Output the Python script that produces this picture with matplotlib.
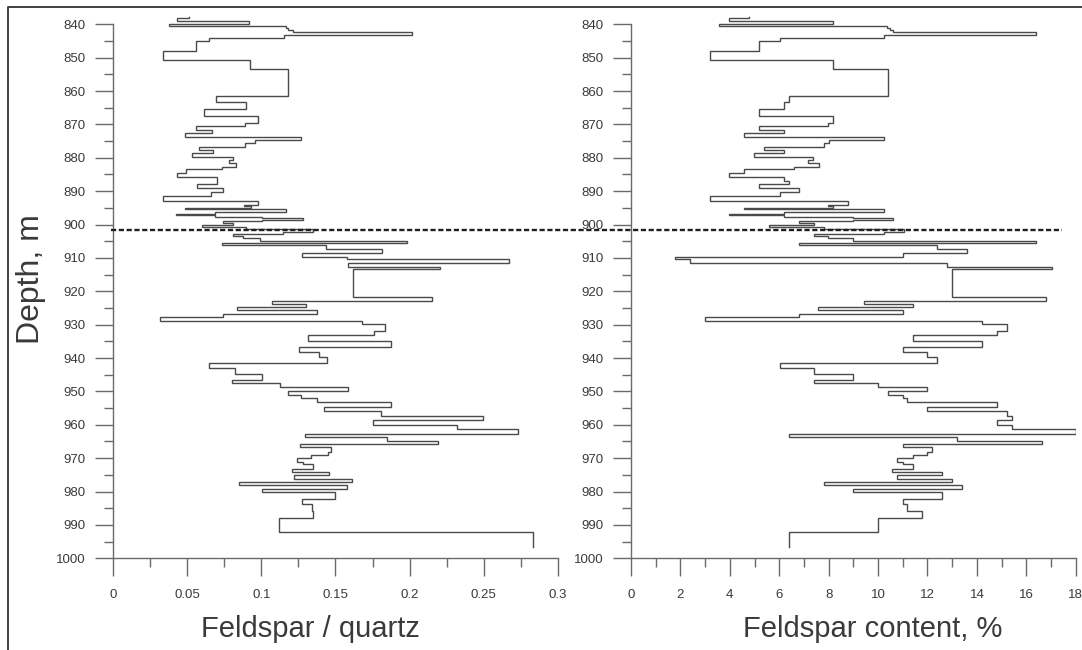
import matplotlib
matplotlib.use("Agg")
import matplotlib.pyplot as plt
import matplotlib.transforms as mtransforms
from matplotlib.lines import Line2D
from matplotlib.ticker import FixedLocator, MultipleLocator
import numpy as np

plt.rcParams['font.family'] = ['Liberation Sans', 'DejaVu Sans']

# sample interval boundaries (m), shared by both logs
depth_bounds = [
    837.9, 838.0, 838.9, 839.9, 840.6, 841.2, 841.8, 842.4, 843.3, 844.2,
    844.9, 847.9, 850.6, 853.3, 861.4, 863.3, 865.5, 867.5, 869.5, 870.5,
    871.7, 872.7, 873.7, 874.7, 875.7, 876.7, 877.7, 878.7, 879.7, 880.7,
    881.7, 882.7, 883.5, 884.5, 885.7, 886.9, 887.9, 889.2, 890.4, 891.5,
    892.9, 894.0, 894.5, 894.9, 895.4, 896.1, 896.7, 897.2, 897.6, 898.1,
    898.6, 898.8, 899.4, 900.1, 900.6, 901.2, 902.3, 902.9, 903.4, 904.1,
    904.8, 905.4, 906.1, 907.3, 908.4, 909.6, 910.4, 911.6, 912.6, 913.4,
    921.6, 922.8, 923.8, 924.8, 925.6, 926.8, 927.8, 928.9, 929.9, 931.8,
    933.1, 934.9, 936.6, 938.1, 939.6, 941.4, 943.1, 944.8, 946.6, 947.6,
    948.8, 949.9, 951.1, 952.1, 953.3, 954.6, 955.9, 957.3, 958.6, 960.1,
    961.4, 962.8, 963.8, 964.9, 965.8, 966.8, 968.1, 969.1, 970.1, 971.1,
    971.8, 973.1, 974.1, 975.1, 976.1, 977.1, 978.1, 979.1, 980.1, 982.1,
    983.8, 985.7, 987.8, 992.1, 996.5,
]

# feldspar / quartz ratio per interval
ratio = [
    0.0513, 0.0428, 0.0914, 0.0378, 0.1164, 0.1182, 0.1215, 0.2019, 0.1155, 0.0648,
    0.0558, 0.0338, 0.0923, 0.1182, 0.0693, 0.0894, 0.0612, 0.0975, 0.0891, 0.0558,
    0.0668, 0.0484, 0.1269, 0.0957, 0.0891, 0.0576, 0.0671, 0.0529, 0.0810, 0.0781,
    0.0828, 0.0731, 0.0491, 0.0428, 0.0702, 0.0702, 0.0563, 0.0743, 0.0659, 0.0338,
    0.0975, 0.0885, 0.0930, 0.0484, 0.1166, 0.0686, 0.0423, 0.0686, 0.1002, 0.1283,
    0.1002, 0.0738, 0.0806, 0.0596, 0.0896, 0.1350, 0.1148, 0.0806, 0.0878, 0.0990,
    0.1985, 0.0736, 0.1434, 0.1816, 0.1272, 0.1580, 0.2672, 0.1587, 0.2206, 0.1616,
    0.2154, 0.1069, 0.1299, 0.0833, 0.1377, 0.0743, 0.0315, 0.1681, 0.1834, 0.1762,
    0.1312, 0.1873, 0.1254, 0.1389, 0.1440, 0.0644, 0.0819, 0.1002, 0.0804, 0.1125,
    0.1587, 0.1182, 0.1267, 0.1377, 0.1873, 0.1425, 0.1807, 0.2498, 0.1756, 0.2318,
    0.2730, 0.1294, 0.1850, 0.2194, 0.1260, 0.1467, 0.1452, 0.1335, 0.1238, 0.1283,
    0.1350, 0.1209, 0.1458, 0.1222, 0.1609, 0.0851, 0.1576, 0.1002, 0.1497, 0.1276,
    0.1339, 0.1350, 0.1119, 0.2836,
]

# feldspar content (%) per interval
feldspar = [
    4.78, 3.98, 8.19, 3.58, 10.38, 10.49, 10.59, 16.40, 10.22, 6.01,
    5.20, 3.20, 8.19, 10.39, 6.40, 6.21, 5.20, 8.19, 7.99, 5.20,
    6.21, 4.59, 10.22, 8.03, 7.81, 5.40, 6.21, 4.99, 7.38, 7.18,
    7.61, 6.60, 4.59, 3.98, 6.19, 6.40, 5.20, 6.80, 6.01, 3.20,
    8.80, 7.99, 8.19, 4.59, 10.22, 6.21, 3.98, 6.21, 9.00, 10.59,
    9.00, 6.80, 7.41, 5.59, 7.81, 11.03, 10.22, 7.41, 7.99, 9.00,
    16.40, 6.80, 12.38, 13.59, 11.00, 1.78, 2.39, 12.78, 17.03, 13.01,
    16.80, 9.41, 11.40, 7.58, 11.00, 6.80, 3.00, 14.20, 15.21, 14.80,
    11.40, 14.20, 11.00, 12.00, 12.40, 6.01, 7.41, 9.00, 7.41, 10.01,
    12.00, 10.39, 11.00, 11.19, 14.80, 12.00, 15.21, 15.41, 14.80, 15.41,
    18.00, 6.40, 13.21, 16.63, 11.00, 12.20, 12.00, 11.40, 10.78, 11.00,
    11.40, 10.58, 12.58, 10.78, 12.98, 7.81, 13.41, 9.00, 12.58, 11.00,
    11.19, 11.79, 10.01, 6.40,
]

boundary_depth = 901.7

ratio_ticks = [0, 0.05, 0.1, 0.15, 0.2, 0.25, 0.3]
ratio_labels = ["0", "0.05", "0.1", "0.15", "0.2", "0.25", "0.3"]
content_ticks = [0, 2, 4, 6, 8, 10, 12, 14, 16, 18]
depth_ticks = list(range(840, 1001, 10))
depth_minor = list(range(845, 1000, 10))

line_col = '#4a4a4a'
axis_col = '#6a6a6a'
text_col = '#3a3a3a'


def step_xy(bounds, vals):
    y = np.repeat(np.asarray(bounds), 2)[1:-1]
    x = np.repeat(np.asarray(vals), 2)
    return x, y


fig = plt.figure(figsize=(10.82, 6.5), dpi=100)
ax1 = fig.add_axes([0.1047, 0.1411, 0.4107, 0.8472])
ax2 = fig.add_axes([0.5832, 0.1411, 0.4110, 0.8472])

for ax, vals in [(ax1, ratio), (ax2, feldspar)]:
    x, y = step_xy(depth_bounds, vals)
    ax.plot(x, y, color=line_col, lw=1.0, solid_joinstyle='miter')
    ax.set_ylim(1000, 835)
    ax.spines['top'].set_visible(False)
    ax.spines['right'].set_visible(False)
    for s in ('left', 'bottom'):
        ax.spines[s].set_color(axis_col)
        ax.spines[s].set_linewidth(1.0)
    ax.spines['left'].set_bounds(840, 1000)
    ax.set_yticks(depth_ticks)
    ax.yaxis.set_minor_locator(FixedLocator(depth_minor))
    ax.tick_params(which='major', length=13, width=1.0, color=axis_col,
                   labelcolor=text_col, labelsize=9.5)
    ax.tick_params(which='minor', length=6.5, width=1.0, color=axis_col)
    ax.tick_params(axis='y', which='major', pad=7)
    ax.tick_params(axis='x', which='major', pad=9)
    ax.patch.set_alpha(0)

ax1.set_xlim(0, 0.3)
ax1.set_xticks(ratio_ticks)
ax1.set_xticklabels(ratio_labels)
ax1.xaxis.set_minor_locator(MultipleLocator(0.025))

ax2.set_xlim(0, 18)
ax2.set_xticks(content_ticks)
ax2.xaxis.set_minor_locator(MultipleLocator(1))

fig.text(310 / 1082, 0.02, "Feldspar / quartz", fontsize=21, color=text_col,
         ha='center', va='baseline')
fig.text(873 / 1082, 0.02, "Feldspar content, %", fontsize=21, color=text_col,
         ha='center', va='baseline')
fig.text(0.029, 0.571, "Depth, m", fontsize=23, color=text_col, rotation=90,
         ha='center', va='center')

# dashed boundary line across both panels
tr = mtransforms.blended_transform_factory(fig.transFigure, ax1.transData)
fig.add_artist(Line2D([0.1026, 0.9815], [boundary_depth, boundary_depth],
                      transform=tr, color='#1e1e1e', lw=1.7,
                      linestyle=(0, (2.2, 1.1))))

# outer frame (top and left edges)
fig.add_artist(Line2D([0.0074, 0.0074, 1.0], [0.0, 0.989, 0.989],
                      transform=fig.transFigure, color='#333333', lw=1.3))

fig.savefig("out.png", dpi=100)
